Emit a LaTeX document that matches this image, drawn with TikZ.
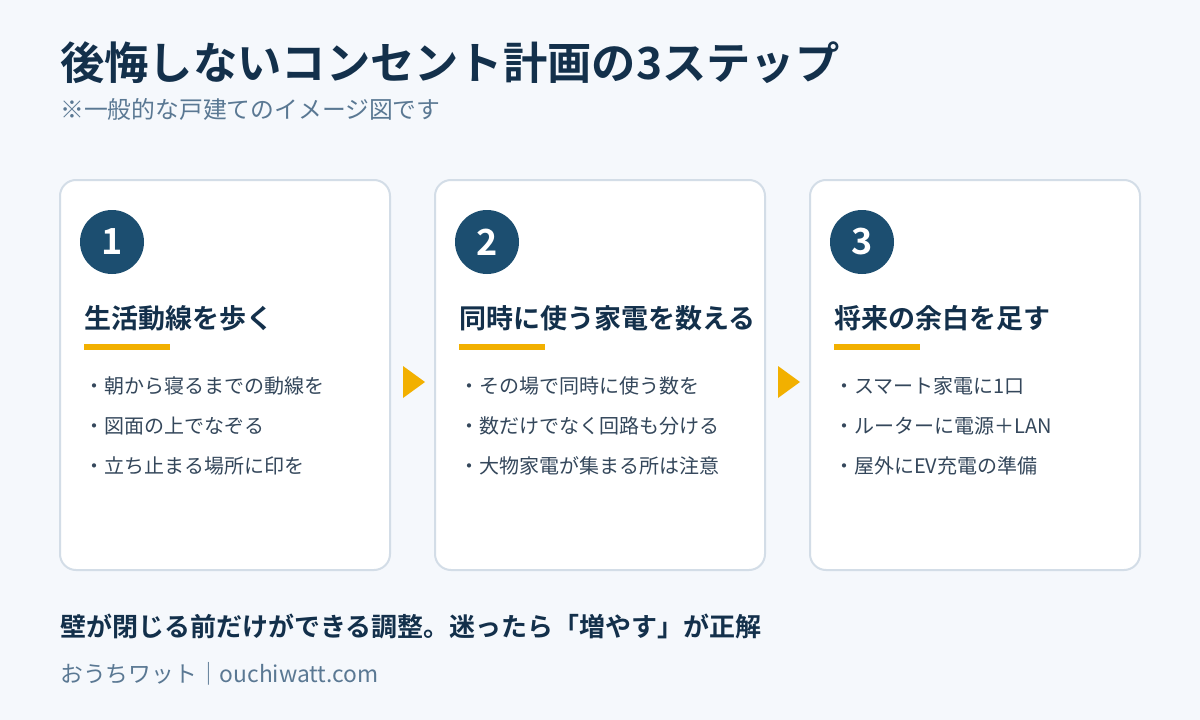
\documentclass[tikz,border=0pt]{standalone}
\usepackage{fontspec}
\setmainfont{Noto Sans CJK JP}[BoldFont={Noto Sans CJK JP Bold}]
\usetikzlibrary{positioning}
\definecolor{pagebg}{HTML}{F5F8FC}
\definecolor{cardline}{HTML}{D3DDE7}
\definecolor{navy}{HTML}{13304B}
\definecolor{badgeblue}{HTML}{1C4E70}
\definecolor{accent}{HTML}{F2B000}
\definecolor{bodytext}{HTML}{34475B}
\definecolor{mutedtext}{HTML}{5A7893}
\tikzset{
  card/.style={rectangle,draw=cardline,line width=2pt,fill=white,rounded corners=16pt,minimum width=330pt,minimum height=390pt},
  badge/.style={circle,fill=badgeblue,text=white,minimum size=64pt,inner sep=0pt,font=\bfseries\fontsize{36}{36}\selectfont},
  heading/.style={anchor=west,inner sep=0pt,text=navy,font=\bfseries\fontsize{27}{27}\selectfont},
  bar/.style={rectangle,fill=accent,minimum width=86pt,minimum height=6pt,inner sep=0pt,anchor=north west},
  item/.style={anchor=west,inner sep=0pt,text=bodytext,text height=15pt,text depth=5pt,font=\fontsize{20}{20}\selectfont},
  title/.style={anchor=west,inner sep=0pt,text=navy,font=\bfseries\fontsize{44.3}{44}\selectfont},
  note/.style={anchor=west,inner sep=0pt,text=mutedtext,font=\fontsize{23.8}{24}\selectfont},
  pointer/.style={fill=accent}
}

\begin{document}
\begin{tikzpicture}[x=1pt,y=-1pt]
\fill[pagebg] (0,0) rectangle (1200,720);
\useasboundingbox (0,0) rectangle (1200,720);

\node[title] (title) at (60,63) {後悔しないコンセント計画の3ステップ};
\node[note] (sub) at (60,109) {※一般的な戸建てのイメージ図です};

% step cards
\node[card] (c1) at (225,375) {};
\node[card] (c2) at (600,375) {};
\node[card] (c3) at (975,375) {};

\node[badge] (n1) at (112,242) {1};
\node[badge] (n2) at (487,242) {2};
\node[badge] (n3) at (862,242) {3};

\node[heading] (h1) at (84,318) {生活動線を歩く};
\node[heading] (h2) at (459,318) {同時に使う家電を数える};
\node[heading] (h3) at (834,318) {将来の余白を足す};

\node[bar] (u1) at (84,344) {};
\node[bar] (u2) at (459,344) {};
\node[bar] (u3) at (834,344) {};

\node[item] (b11) at (84,388) {・朝から寝るまでの動線を};
\node[item, below=20pt of b11.south west, anchor=north west] (b12) {・図面の上でなぞる};
\node[item, below=20pt of b12.south west, anchor=north west] (b13) {・立ち止まる場所に印を};

\node[item] (b21) at (459,388) {・その場で同時に使う数を};
\node[item, below=20pt of b21.south west, anchor=north west] (b22) {・数だけでなく回路も分ける};
\node[item, below=20pt of b22.south west, anchor=north west] (b23) {・大物家電が集まる所は注意};

\node[item] (b31) at (834,388) {・スマート家電に1口};
\node[item, below=20pt of b31.south west, anchor=north west] (b32) {・ルーターに電源＋LAN};
\node[item, below=20pt of b32.south west, anchor=north west] (b33) {・屋外にEV充電の準備};

% arrows between cards
\coordinate (p1) at (403,382);
\coordinate (p2) at (778,382);
\fill[pointer] (p1) ++(0,-16) -- ++(22,16) -- ++(-22,16) -- cycle;
\fill[pointer] (p2) ++(0,-16) -- ++(22,16) -- ++(-22,16) -- cycle;

\node[anchor=west,inner sep=0pt,text=navy,font=\bfseries\fontsize{26}{26}\selectfont] (msg) at (60,626) {壁が閉じる前だけができる調整。迷ったら「増やす」が正解};
\node[note,font=\fontsize{22.8}{23}\selectfont] (foot) at (60,674) {おうちワット｜ouchiwatt.com};
\end{tikzpicture}
\end{document}
